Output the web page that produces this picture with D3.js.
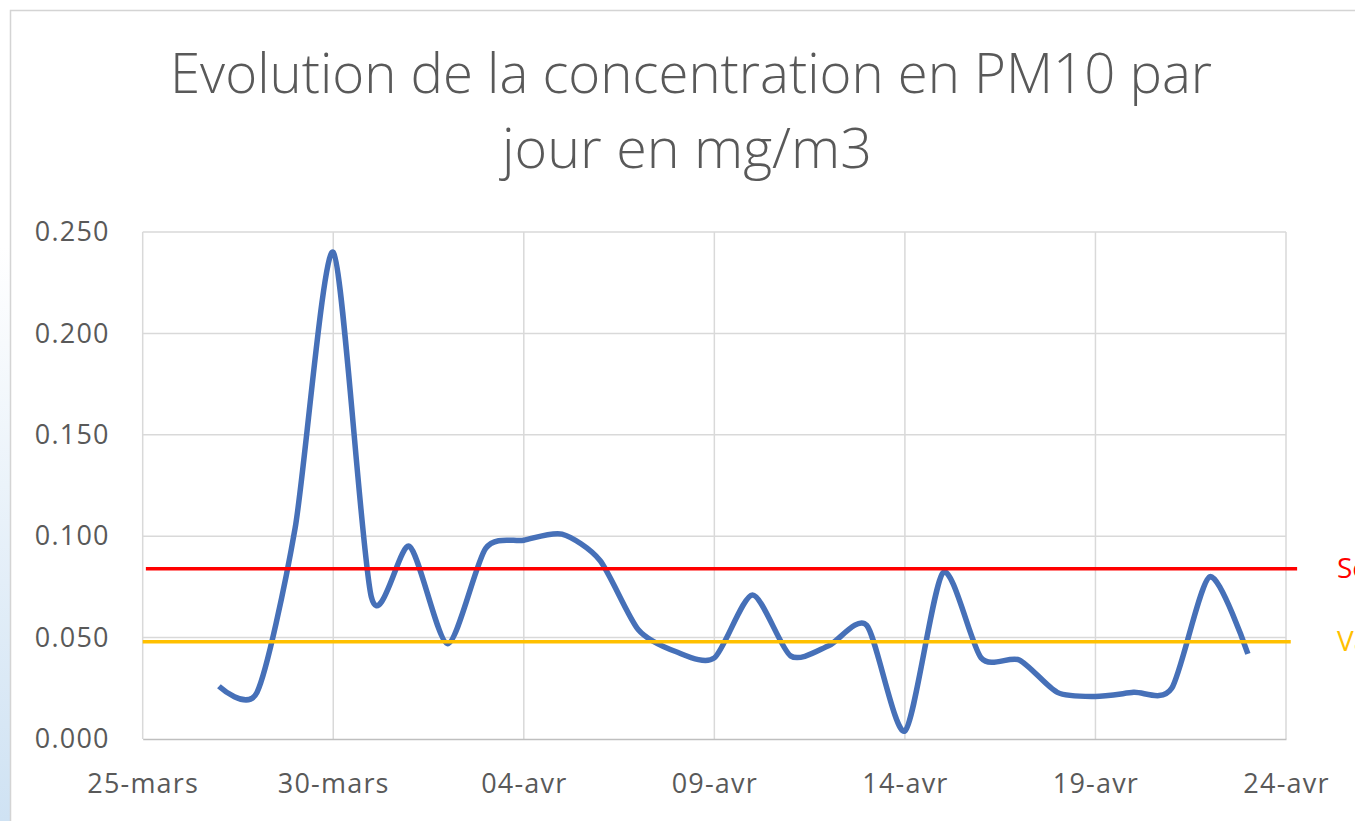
<!DOCTYPE html>
<html>
<head>
<meta charset="utf-8">
<script src="https://cdn.jsdelivr.net/npm/d3@7"></script>
<style>
  body { margin: 0; background: #fff; overflow: hidden; }
  text { font-family: "Open Sans", "Noto Sans", sans-serif; }
</style>
</head>
<body>
<svg id="chart"></svg>
<script>
// daily PM10 concentration (mg/m3)
const days = ["2020-03-27","2020-03-28","2020-03-29","2020-03-30","2020-03-31",
              "2020-04-01","2020-04-02","2020-04-03","2020-04-04","2020-04-05",
              "2020-04-06","2020-04-07","2020-04-08","2020-04-09","2020-04-10",
              "2020-04-11","2020-04-12","2020-04-13","2020-04-14","2020-04-15",
              "2020-04-16","2020-04-17","2020-04-18","2020-04-19","2020-04-20",
              "2020-04-21","2020-04-22","2020-04-23"]
const pm10 = [0.026,0.023,0.104,0.240,0.070,
              0.095,0.047,0.094,0.098,0.101,
              0.088,0.054,0.043,0.040,0.071,
              0.041,0.046,0.056,0.004,0.082,
              0.040,0.039,0.023,0.021,0.023,
              0.025,0.080,0.042]

const xTicks = ["2020-03-25","2020-03-30","2020-04-04","2020-04-09","2020-04-14","2020-04-19","2020-04-24"]
const yTicks = [0, 0.05, 0.10, 0.15, 0.20, 0.25]

// reference lines drawn over the chart
const refNames = ["Seuil d'alerte", "Valeur limite"]
const refValues = [0.084, 0.048]
const refStart = ["2020-03-25T02:00", "2020-03-25T00:00"]
const refEnd = ["2020-04-24T07:00", "2020-04-24T03:00"]
const refColors = ["#ff0000", "#ffc000"]

const title = ["Evolution de la concentration en PM10 par", "jour en mg/m3"]

const W = 1355, H = 821
const plotL = 142.7, plotR = 1286, plotT = 232, plotB = 739
const parse = d3.isoParse

const svg = d3.select('#chart').attr('width', W).attr('height', H)

// window edge + chart frame
const grad = svg.append('defs').append('linearGradient')
    .attr('id', 'edge').attr('x1', 0).attr('y1', 0).attr('x2', 0).attr('y2', 1)
grad.append('stop').attr('offset', '0.3').attr('stop-color', '#ffffff')
grad.append('stop').attr('offset', '1').attr('stop-color', '#cfe2f3')
svg.append('rect').attr('x', 0).attr('y', 0).attr('width', 10).attr('height', H).attr('fill', 'url(#edge)')
svg.append('path').attr('d', `M10.5,${H} V10.5 H${W}`)
    .attr('fill', 'none').attr('stroke', '#d4d4d4').attr('stroke-width', 1.5)

const x = d3.scaleTime()
    .domain([parse(xTicks[0]), parse(xTicks[xTicks.length - 1])])
    .range([plotL, plotR])
const y = d3.scaleLinear().domain([0, 0.25]).range([plotB, plotT])

// title
const titleG = svg.append('g').attr('fill', '#595959')
    .style('font-size', '56px').style('font-weight', 300)
titleG.append('text').attr('x', 170).attr('y', 93)
    .attr('textLength', 1042).attr('lengthAdjust', 'spacingAndGlyphs').text(title[0])
titleG.append('text').attr('x', 502).attr('y', 168)
    .attr('textLength', 370).attr('lengthAdjust', 'spacingAndGlyphs').text(title[1])

// gridlines
svg.append('g').selectAll('line')
    .data(yTicks.filter(d => d > 0))
    .join('line')
    .attr('x1', plotL).attr('x2', plotR)
    .attr('y1', d => y(d)).attr('y2', d => y(d))
    .attr('stroke', '#d9d9d9').attr('stroke-width', 1.5)

svg.append('g').selectAll('line')
    .data(xTicks)
    .join('line')
    .attr('x1', d => x(parse(d))).attr('x2', d => x(parse(d)))
    .attr('y1', plotT).attr('y2', plotB)
    .attr('stroke', '#d9d9d9').attr('stroke-width', 1.5)

// x axis
const fmtDay = d => {
    const m = d.getMonth() === 2 ? 'mars' : 'avr'
    return d3.timeFormat('%d')(d) + '-' + m
}
const xAxis = svg.append('g').attr('transform', `translate(0,${plotB})`)
    .call(d3.axisBottom(x).tickValues(xTicks.map(parse)).tickFormat(fmtDay).tickSize(0).tickPadding(54))
xAxis.select('.domain').attr('stroke', '#bfbfbf').attr('stroke-width', 1.5)
xAxis.selectAll('text')
    .attr('fill', '#595959').attr('dy', 0)
    .style('font-size', '27px').style('letter-spacing', '1.2px')
    .style('font-family', '"Open Sans", sans-serif')

// y axis
const yAxis = svg.append('g').attr('transform', `translate(${plotL},0)`)
    .call(d3.axisLeft(y).tickValues(yTicks).tickFormat(d3.format('.3f')).tickSize(0).tickPadding(33))
yAxis.select('.domain').remove()
yAxis.selectAll('text')
    .attr('fill', '#595959').attr('dy', '0.32em')
    .style('font-size', '27px').style('letter-spacing', '1.2px')
    .style('font-family', '"Open Sans", sans-serif')

// series (smoothed like the spreadsheet line)
const line = d3.line()
    .x((d, i) => x(parse(days[i])))
    .y(d => y(d))
    .curve(d3.curveCardinal.tension(0.25))

svg.append('path')
    .datum(pm10)
    .attr('d', line)
    .attr('fill', 'none')
    .attr('stroke', '#4670b8')
    .attr('stroke-width', 5.5)
    .attr('stroke-linejoin', 'round')

// reference lines and their labels (cut by the right edge, as in the source)
refValues.forEach((v, i) => {
    svg.append('line')
        .attr('x1', x(parse(refStart[i]))).attr('x2', x(parse(refEnd[i])))
        .attr('y1', y(v)).attr('y2', y(v))
        .attr('stroke', refColors[i]).attr('stroke-width', 3.5)
    svg.append('text')
        .attr('x', plotR + 51).attr('y', y(v))
        .attr('dy', '0.35em')
        .attr('fill', refColors[i])
        .style('font-size', '28px')
        .text(refNames[i])
})
</script>
</body>
</html>
